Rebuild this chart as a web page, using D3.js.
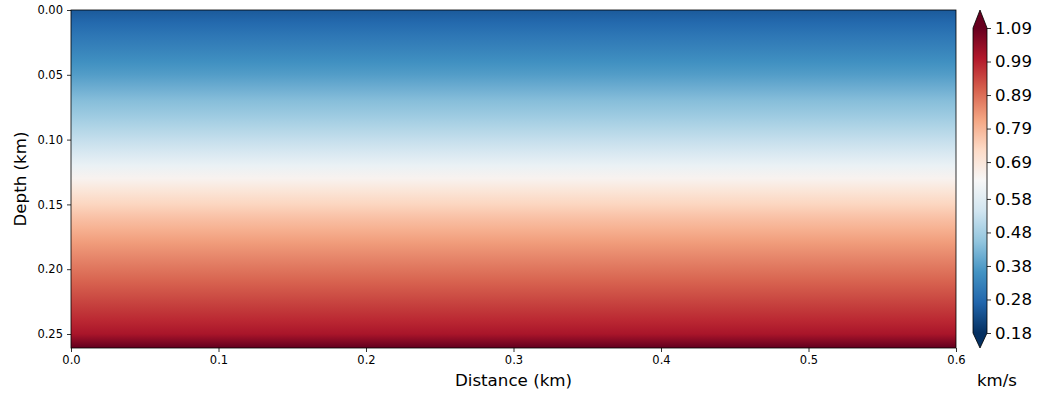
<!DOCTYPE html>
<html>
<head>
<meta charset="utf-8">
<script src="https://cdn.jsdelivr.net/npm/d3@7"></script>
<style>
  body { margin: 0; background: #fff; }
  svg { font-family: "DejaVu Sans", sans-serif; }
  .tick text { fill: #000; }
</style>
</head>
<body>
<svg id="chart" width="1037" height="396"></svg>
<script>
// velocity profile (km, km/s)
var depths = [0.00, 0.01, 0.02, 0.03, 0.04, 0.05, 0.06, 0.07, 0.08, 0.09,
              0.10, 0.11, 0.12, 0.13, 0.14, 0.15, 0.16, 0.17, 0.18, 0.19,
              0.20, 0.21, 0.22, 0.23, 0.24, 0.25, 0.26];
var velocities = [0.25, 0.28, 0.305, 0.33, 0.355, 0.38, 0.41, 0.44, 0.465, 0.495,
                  0.525, 0.56, 0.605, 0.65, 0.695, 0.735, 0.77, 0.80, 0.83, 0.855,
                  0.88, 0.905, 0.93, 0.955, 0.98, 1.01, 1.09];
var distanceTicks = [0.0, 0.1, 0.2, 0.3, 0.4, 0.5, 0.6];
var depthTicks = [0.00, 0.05, 0.10, 0.15, 0.20, 0.25];
var cbarTicks = [0.18, 0.28, 0.38, 0.48, 0.58, 0.69, 0.79, 0.89, 0.99, 1.09];
var vRange = [0.18, 1.09];
var distRange = [0, 0.6];
var depthRange = [0, 0.2608];

// RdBu reversed, as matplotlib builds it (linear between the 11 colours)
var rdbu_r = ["#053061", "#2166ac", "#4393c3", "#92c5de", "#d1e5f0", "#f7f7f7",
              "#fddbc7", "#f4a582", "#d6604d", "#b2182b", "#67001f"];

var svg = d3.select("#chart");
var margin = {top: 10, left: 71, right: 956, bottom: 348};

var x = d3.scaleLinear().domain(distRange).range([margin.left, margin.right]);
var y = d3.scaleLinear().domain(depthRange).range([margin.top, margin.bottom]);

var norm = d3.scaleLinear().domain(vRange).range([0, 1]).clamp(true);
var cmap = d3.scaleLinear()
    .domain(d3.range(rdbu_r.length).map(function(i) { return i / (rdbu_r.length - 1); }))
    .range(rdbu_r)
    .interpolate(d3.interpolateRgb);
var color = function(v) { return cmap(norm(v)); };

var defs = svg.append("defs");

// image: vertical gradient from the velocity rows
var grad = defs.append("linearGradient")
    .attr("id", "vel")
    .attr("gradientUnits", "userSpaceOnUse")
    .attr("x1", 0).attr("x2", 0)
    .attr("y1", y(depthRange[0])).attr("y2", y(depthRange[1]));

depths.forEach(function(d, i) {
    grad.append("stop")
        .attr("offset", (y(Math.min(d, depthRange[1])) - y(0)) / (y(depthRange[1]) - y(0)))
        .attr("stop-color", color(velocities[i]));
});

svg.append("rect")
    .attr("x", x(distRange[0]))
    .attr("y", y(depthRange[0]))
    .attr("width", x(distRange[1]) - x(distRange[0]))
    .attr("height", y(depthRange[1]) - y(depthRange[0]))
    .attr("fill", "url(#vel)");

// axes
var xAxis = d3.axisBottom(x).tickValues(distanceTicks).tickFormat(d3.format(".1f"))
    .tickSizeInner(4).tickSizeOuter(0).tickPadding(4);
var yAxis = d3.axisLeft(y).tickValues(depthTicks).tickFormat(d3.format(".2f"))
    .tickSizeInner(4).tickSizeOuter(0).tickPadding(4);

var gx = svg.append("g")
    .attr("transform", "translate(0," + margin.bottom + ")")
    .call(xAxis);
var gy = svg.append("g")
    .attr("transform", "translate(" + margin.left + ",0)")
    .call(yAxis);

[gx, gy].forEach(function(g) {
    g.select(".domain").remove();
    g.selectAll(".tick line").attr("stroke", "#000").attr("stroke-width", 0.8);
    g.selectAll(".tick text").attr("font-size", "11.5px").attr("font-family", "DejaVu Sans");
});

svg.append("rect")
    .attr("x", margin.left).attr("y", margin.top)
    .attr("width", margin.right - margin.left)
    .attr("height", margin.bottom - margin.top)
    .attr("fill", "none")
    .attr("stroke", "#000")
    .attr("stroke-width", 0.8);

svg.append("text")
    .attr("x", (margin.left + margin.right) / 2)
    .attr("y", 386)
    .attr("text-anchor", "middle")
    .attr("font-size", "16.7px")
    .text("Distance (km)");

svg.append("text")
    .attr("transform", "translate(26," + ((margin.top + margin.bottom) / 2) + ") rotate(-90)")
    .attr("text-anchor", "middle")
    .attr("font-size", "16.7px")
    .text("Depth (km)");

// colorbar
var cb = {x0: 973, x1: 987, tipTop: 10, tipBottom: 348};
var cy = d3.scaleLinear().domain(vRange).range([333, 28]);

var cgrad = defs.append("linearGradient")
    .attr("id", "cbar")
    .attr("gradientUnits", "userSpaceOnUse")
    .attr("x1", 0).attr("x2", 0)
    .attr("y1", cy(vRange[0])).attr("y2", cy(vRange[1]));
rdbu_r.forEach(function(c, i) {
    cgrad.append("stop")
        .attr("offset", i / (rdbu_r.length - 1))
        .attr("stop-color", c);
});

var xm = (cb.x0 + cb.x1) / 2;
svg.append("rect")
    .attr("x", cb.x0).attr("y", cy(vRange[1]))
    .attr("width", cb.x1 - cb.x0)
    .attr("height", cy(vRange[0]) - cy(vRange[1]))
    .attr("fill", "url(#cbar)");
svg.append("path")
    .attr("d", "M" + cb.x0 + "," + cy(vRange[1]) + "L" + xm + "," + cb.tipTop + "L" + cb.x1 + "," + cy(vRange[1]) + "Z")
    .attr("fill", rdbu_r[rdbu_r.length - 1]);
svg.append("path")
    .attr("d", "M" + cb.x0 + "," + cy(vRange[0]) + "L" + xm + "," + cb.tipBottom + "L" + cb.x1 + "," + cy(vRange[0]) + "Z")
    .attr("fill", rdbu_r[0]);

svg.append("path")
    .attr("d", "M" + cb.x0 + "," + cy(vRange[0]) + "L" + cb.x0 + "," + cy(vRange[1]) +
               "L" + xm + "," + cb.tipTop + "L" + cb.x1 + "," + cy(vRange[1]) +
               "L" + cb.x1 + "," + cy(vRange[0]) + "L" + xm + "," + cb.tipBottom + "Z")
    .attr("fill", "none")
    .attr("stroke", "#000")
    .attr("stroke-width", 0.8);

var cAxis = d3.axisRight(cy).tickValues(cbarTicks).tickFormat(d3.format(".2f"))
    .tickSizeInner(4).tickSizeOuter(0).tickPadding(4);
var gc = svg.append("g")
    .attr("transform", "translate(" + cb.x1 + ",0)")
    .call(cAxis);
gc.select(".domain").remove();
gc.selectAll(".tick line").attr("stroke", "#000").attr("stroke-width", 0.8);
gc.selectAll(".tick text").attr("font-size", "16.6px").attr("font-family", "DejaVu Sans");

svg.append("text")
    .attr("x", 977)
    .attr("y", 386)
    .attr("font-size", "16.6px")
    .text("km/s");
</script>
</body>
</html>
